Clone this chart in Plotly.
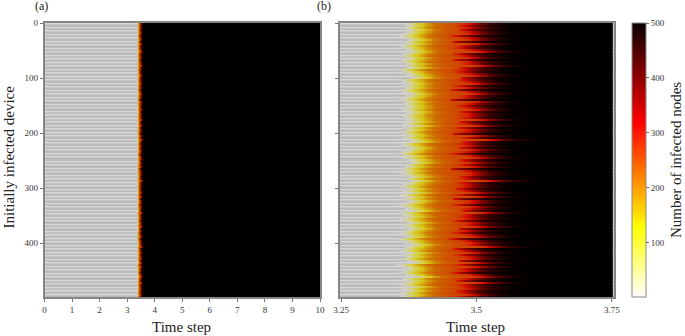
import plotly.graph_objects as go

# time grid of the spreading phase (steps of 0.005 from 3.25 to 3.75)
time_steps = [round(3.25 + 0.005 * k, 3) for k in range(101)]

# infected nodes along the typical front, starting at t = 3.365
front_profile = [3, 12, 35, 60, 85, 110, 130, 150, 170, 190, 205, 218, 226, 232, 238, 242,
                 246, 250, 254, 260, 266, 274, 285, 300, 320, 345, 368, 388, 405, 420, 435,
                 448, 458, 466, 473, 479, 484, 488, 491, 494, 497, 499]
front_start_index = 23
plateau_end = 18

# per-row offset of the front, in grid steps, read top to bottom
row_shift = [1, 1, 0, 2, 1, 0, -1, 0, 2, 0, 1, -1, 0, 1, 2, 0, -1, 1, 0, -1,
             1, 0, 2, -2, 0, 1, 2, 3, -1, 0, 1, 0, 1, -1, 0, 2, 1, 0, -1, 1,
             0, 1, 1, 0, 2, 1, 0, 1, 1, 2, 0, 3, 0, 1, -1, 0, 1, 0, 2, 3,
             -1, 0, 2, 1, 0, -2, 1, 0, 2, 3, 0, 1, -1, 0, -1, 1, 2, 0, 3, 1,
             0, -1, 1, 0, 2, -1, 1, 0, 2, 1, -1, 0, 1, 3, -1, 0, 1, -1, 0, 2,
             0, 1, 2, 0, -1, 0, 1, -2, 0, 1, 3, 1, 0, -1, 2, 0, 1, -1, 2, 3,
             -2, 0, 1, 0, -1, 1, 4, 0, 1, 0, -1, 2, 0, 1, -1, 0, -1]

# per-row change of the length of the orange plateau, in grid steps
row_tail = [0, -2, 1, -4, 0, 2, -3, 1, 0, -5, 3, 0, -2, 1, 4, -3, 0, 1, -4, 2,
            0, 6, -3, 1, -2, 0, 2, -5, 0, 1, 3, -2, 0, -4, 1, 2, -1, 0, -5, 3,
            1, -2, 0, 4, -3, 0, 1, -1, 5, -4, 0, 2, -2, 0, 1, -5, 3, 0, 7, -3,
            0, 1, -4, 2, 0, -2, 1, 5, -3, 0, -1, 2, -5, 0, 3, 1, -3, 0, 6, -2,
            0, 1, -4, 0, 2, -1, 4, -5, 0, 1, -2, 3, 0, -4, 8, 0, -1, 2, -3, 0,
            1, 4, -5, 0, -2, 1, 3, -3, 0, 2, -1, 7, -4, 0, 1, -2, 0, 3, -5, 1,
            0, 4, -2, 0, -3, 1, 2, 0, -4, 6, 0, -2, 1, -3, 0, 2, -1]

# grey banding of the not-yet-infected rows (about one entry per pixel)
row_grey = [216, 198, 186, 190, 214, 196, 186]
n_grey_rows = 274

device_ticks = [0, 100, 200, 300, 400]
panel_a_ticks = [0, 1, 2, 3, 4, 5, 6, 7, 8, 9, 10]
panel_b_ticks = [3.25, 3.5, 3.75]
panel_b_labels = ["3.25", "3.5", "3.75"]
colorbar_ticks = [100, 200, 300, 400, 500]

n_rows = len(row_shift)
row_y = [(i + 0.5) * 500 / n_rows for i in range(n_rows)]
grey_y = [(i + 0.5) * 500 / n_grey_rows for i in range(n_grey_rows)]

z = []
for shift, tail in zip(row_shift, row_tail):
    row = []
    for k in range(len(time_steps)):
        idx = k - front_start_index - shift
        if idx > plateau_end:
            idx = max(plateau_end, idx - tail)
        if idx < 0:
            row.append(None)
        elif idx < len(front_profile):
            row.append(front_profile[idx])
        else:
            row.append(500)
    z.append(row)

x_a = [0] + time_steps + [10]
z_a = [[None] + r + [500] for r in z]
grey_z = [[row_grey[i % len(row_grey)]] * 2 for i in range(n_grey_rows)]

hot_r = [[0, "#ffffff"], [0.254, "#ffff00"], [0.635, "#ff0000"], [1, "#0b0000"]]
dim_hot = [[0, "#cdcdcd"], [0.12, "#d6d278"], [0.254, "#d7c819"], [0.44, "#cd6e00"],
           [0.635, "#d20800"], [1, "#030000"]]
grey_scale = [[0, "rgb(180,180,180)"], [1, "rgb(220,220,220)"]]

FONT = "Liberation Serif"
fig = go.Figure()
for xa, ya, xv, zv, gx in (("x", "y", x_a, z_a, [0, 10]),
                           ("x2", "y2", time_steps, z, [3.24, 3.76])):
    fig.add_trace(go.Heatmap(x=gx, y=grey_y, z=grey_z, zmin=180, zmax=220, colorscale=grey_scale,
                             showscale=False, xaxis=xa, yaxis=ya, hoverinfo="skip"))
    fig.add_trace(go.Heatmap(x=xv, y=row_y, z=zv, zmin=0, zmax=500, colorscale=dim_hot,
                             showscale=False, xaxis=xa, yaxis=ya))

fig.add_trace(go.Scatter(
    x=[3.5], y=[250], mode="markers", xaxis="x2", yaxis="y2", hoverinfo="skip",
    marker=dict(size=1, opacity=0, color=[250], cmin=1, cmax=500, colorscale=hot_r, showscale=True,
                colorbar=dict(x=632 / 685, xanchor="left", xref="paper", y=39 / 336, yanchor="bottom",
                              yref="paper", len=274 / 336, lenmode="fraction", thickness=14,
                              thicknessmode="pixels", outlinecolor="#888888", outlinewidth=1,
                              borderwidth=0, xpad=0, ypad=0, tickvals=colorbar_ticks, ticks="outside",
                              ticklen=3, tickcolor="#666666",
                              tickfont=dict(family=FONT, size=9, color="#333333"))),
))

ax_common = dict(showline=True, mirror=True, linecolor="#868686", linewidth=1.5, ticks="outside",
                 ticklen=3, tickwidth=1, tickcolor="#777777", showgrid=False, zeroline=False,
                 tickfont=dict(family=FONT, size=9, color="#333333"))


def note(text, px, py, size=15, angle=0):
    return dict(text=text, x=px / 685, y=1 - py / 336, xref="paper", yref="paper", showarrow=False,
                xanchor="center", yanchor="middle", textangle=angle,
                font=dict(family=FONT, size=size, color="#222222"))


fig.update_layout(
    width=685, height=336, autosize=False,
    margin=dict(l=0, r=0, t=0, b=0, autoexpand=False),
    paper_bgcolor="white", plot_bgcolor="white", showlegend=False,
    xaxis=dict(domain=[44.5 / 685, 320 / 685], range=[0, 10], tickvals=panel_a_ticks,
               anchor="y", **ax_common),
    yaxis=dict(domain=[39 / 336, 313 / 336], range=[498, 0], tickvals=device_ticks,
               anchor="x", **ax_common),
    xaxis2=dict(domain=[339.5 / 685, 614 / 685], range=[3.247, 3.754], tickvals=panel_b_ticks,
                ticktext=panel_b_labels, anchor="y2", **ax_common),
    yaxis2=dict(domain=[39 / 336, 313 / 336], range=[498, 0], tickvals=device_ticks,
                ticktext=[""] * 5, anchor="x2", **ax_common),
    annotations=[
        note("(a)", 41, 6, size=12),
        note("(b)", 324, 6, size=12),
        note("Time step", 181.5, 327),
        note("Time step", 475, 327),
        note("Initially infected device", 8.5, 157, angle=-90),
        note("Number of infected nodes", 676, 160, angle=-90),
    ],
)
fig.write_html("out.html", config={"displayModeBar": False},
               post_script="document.body.style.margin='0';")
